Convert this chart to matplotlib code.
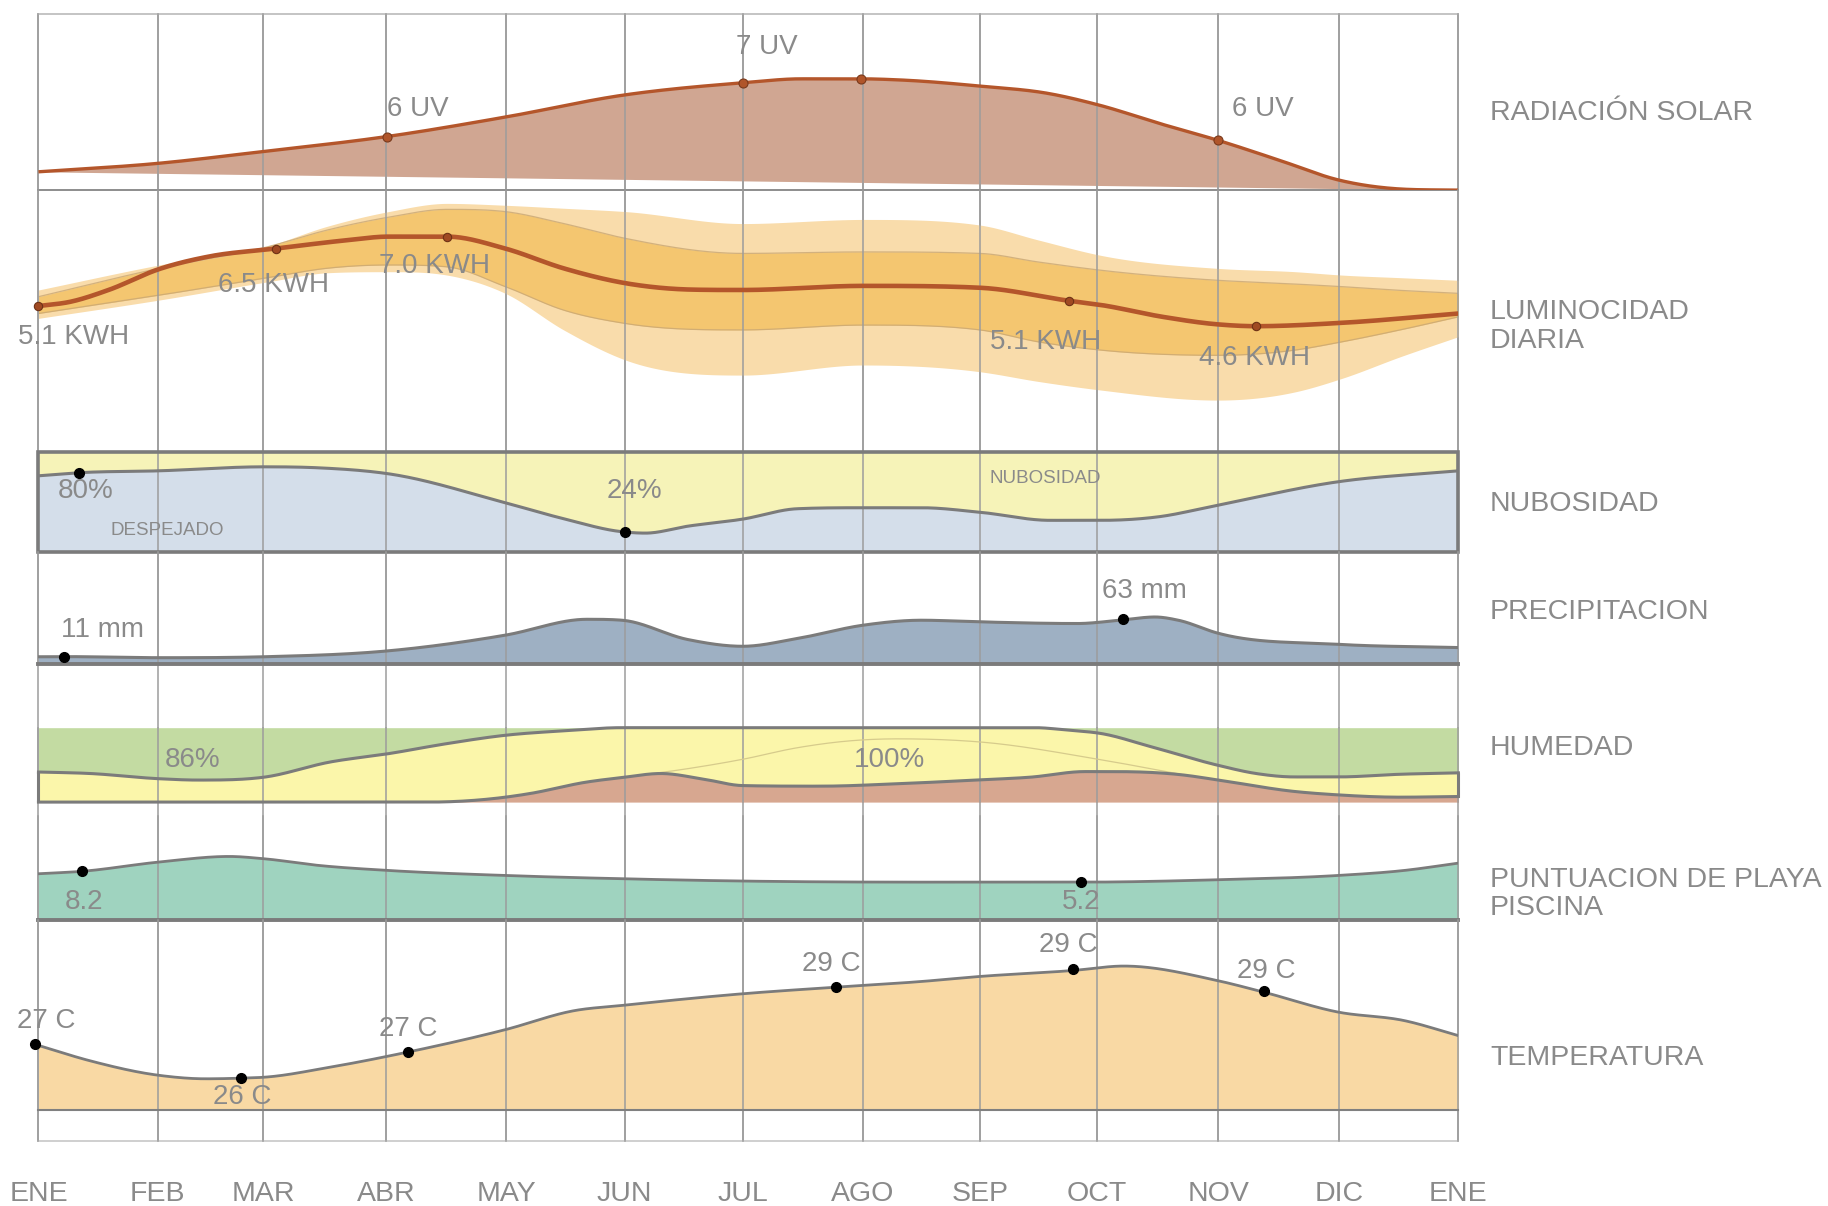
import numpy as np
import matplotlib
matplotlib.use("Agg")
import matplotlib.pyplot as plt
from matplotlib.patches import Rectangle
import matplotlib.transforms as mtransforms

plt.rcParams['font.family'] = ['Liberation Sans', 'DejaVu Sans']

# ---------------- data ----------------
month_labels = ["ENE", "FEB", "MAR", "ABR", "MAY", "JUN", "JUL", "AGO", "SEP", "OCT", "NOV", "DIC", "ENE"]
month_pos = [0, 30.6, 57.8, 89.3, 120.2, 150.7, 181, 211.9, 242.1, 272.1, 303.3, 334.4, 365]

row_labels = ["RADIACIÓN SOLAR", "LUMINOCIDAD\nDIARIA", "NUBOSIDAD", "PRECIPITACION",
              "HUMEDAD", "PUNTUACION DE PLAYA\nPISCINA", "TEMPERATURA"]

# solar radiation (UV index)
rad_days = [0, 30.6, 57.5, 89.6, 120.2, 150.4, 181.2, 196, 211.5, 221.5, 242.1, 259.5, 272.7, 288.3, 303.3, 318.8, 334.4, 350.8, 365]
rad_uv = [5.39, 5.54, 5.75, 6.02, 6.37, 6.76, 6.98, 7.05, 7.05, 7.03, 6.92, 6.79, 6.58, 6.25, 5.95, 5.60, 5.24, 5.08, 5.063]
rad_floor = [5.39, 5.063]
rad_mark_days = [89.6, 181.2, 211.5, 303.3]
rad_mark_vals = [6.02, 6.98, 7.05, 5.95]
rad_texts = ["6 UV", "7 UV", "6 UV"]

# daily luminosity (kWh)
lum_days = [0, 8, 18, 31, 44, 61, 79, 90, 105, 120, 135, 151, 168, 181, 212, 242, 265, 273, 289, 303, 313, 335, 365]
lum_kwh = [5.15, 5.26, 5.58, 6.14, 6.48, 6.69, 6.91, 7.01, 7.01, 6.69, 6.16, 5.76, 5.59, 5.58, 5.69, 5.64, 5.29, 5.18, 4.86, 4.66, 4.61, 4.70, 4.95]
band_days = [0, 31, 59, 74, 90, 105, 120, 135, 151, 181, 212, 242, 257, 273, 303, 323, 335, 350, 365]
lum_outer_hi = [5.58, 6.25, 6.76, 7.28, 7.68, 7.90, 7.85, 7.77, 7.68, 7.36, 7.47, 7.32, 6.92, 6.51, 6.16, 6.07, 5.98, 5.91, 5.84]
lum_inner_hi = [5.40, 6.16, 6.74, 7.18, 7.53, 7.74, 7.68, 7.36, 6.96, 6.56, 6.60, 6.56, 6.33, 6.11, 5.84, 5.74, 5.67, 5.57, 5.49]
lum_inner_lo = [4.95, 5.44, 5.91, 6.16, 6.25, 6.20, 5.67, 5.04, 4.68, 4.51, 4.64, 4.51, 4.19, 3.97, 3.83, 3.97, 4.19, 4.51, 4.86]
lum_outer_lo = [4.82, 5.31, 5.80, 6.04, 6.07, 5.98, 5.49, 4.51, 3.70, 3.30, 3.57, 3.39, 3.13, 2.90, 2.63, 2.85, 3.21, 3.79, 4.33]
lum_mark_days = [0, 61, 105, 265, 313]
lum_mark_vals = [5.15, 6.69, 7.01, 5.29, 4.61]
lum_texts = ["5.1 KWH", "6.5 KWH", "7.0 KWH", "5.1 KWH", "4.6 KWH"]

# cloud cover: share of clear sky (%)
nub_days = [0, 10, 31, 58, 72, 90, 120, 135, 150, 156, 167, 181, 195, 212, 227, 242, 260, 273, 288, 303, 334, 365]
nub_clear = [76, 79, 81, 85, 84, 78, 49, 33, 20, 18.6, 25.6, 32.6, 43, 44, 44, 39.5, 31.4, 31.4, 35, 46.5, 70, 81]
nub_mark_days = [10.5, 150.7]
nub_mark_vals = [79, 19.8]
nub_texts = ["80%", "24%"]

# precipitation (mm)
pr_days = [0, 7, 31, 58, 90, 120, 141, 150, 167, 181, 195, 212, 227, 242, 267, 278, 287, 293, 303, 334, 365]
pr_mm = [10.4, 10.6, 9.1, 10.4, 18.7, 40.5, 62.6, 61.3, 34.3, 25.0, 35.8, 54.4, 61.3, 59.0, 56.7, 61.3, 65.8, 61.3, 43.5, 27.8, 23.2]
pr_mark_days = [6.6, 278.7]
pr_mark_vals = [10.6, 62.6]
pr_texts = ["11 mm", "63 mm"]

# humidity bands (% of time)
hum_up_days = [0, 13, 31, 41, 58, 75, 90, 105, 120, 135, 150, 256, 265, 273, 286, 303, 313, 323, 334, 350, 365]
hum_up = [40.4, 38.5, 31.4, 29.6, 33.5, 53.9, 65.1, 78.6, 89.8, 95.8, 100, 100, 96.5, 92.3, 74.4, 49.7, 38.4, 33.8, 33.8, 37.4, 39.3]
hum_lo_days = [0, 100, 120, 126, 141, 150, 160, 171, 181, 201, 221, 242, 255, 269, 276, 294, 303, 323, 334, 350, 365]
hum_lo = [0, 0, 6.6, 11.2, 27, 33, 38.4, 30.8, 22.2, 21.4, 24.7, 29.9, 33.5, 41, 41, 36.6, 29.9, 14.2, 9.7, 6.6, 7.5]
hum_mid_days = [150, 167, 181, 195, 209, 221, 242, 273, 294]
hum_mid = [33, 45, 57.5, 73, 82.5, 85, 80.8, 57, 37]
hum_texts = ["86%", "100%"]

# beach / pool score
beach_days = [0, 11, 31, 49, 58, 72, 90, 120, 150, 181, 227, 268, 303, 334, 351, 365]
beach_val = [7.3, 7.67, 9.13, 10.0, 9.64, 8.6, 7.81, 7.03, 6.52, 6.16, 5.99, 5.99, 6.36, 7.03, 7.81, 8.96]
beach_mark_days = [11.2, 268]
beach_mark_vals = [7.69, 6.05]
beach_texts = ["8.2", "5.2"]

# temperature (C)
temp_days = [0, 13, 31, 43, 52, 58, 75, 95, 120, 138, 150, 181, 205, 227, 242, 266, 279, 303, 315, 334, 351, 365]
temp_c = [27.04, 26.56, 26.09, 25.98, 26.0, 26.03, 26.35, 26.83, 27.54, 28.15, 28.31, 28.68, 28.89, 29.07, 29.23, 29.42, 29.56, 29.10, 28.73, 28.10, 27.83, 27.35]
temp_base = 25.0
temp_mark_days = [-1, 52, 95, 205, 266, 315]
temp_mark_vals = [27.1, 26.0, 26.83, 28.89, 29.46, 28.76]
temp_texts = ["27 C", "26 C", "27 C", "29 C", "29 C", "29 C"]

# ---------------- style ----------------
TXT = '#8a8a8a'
GRID = '#9c9c9c'
DARK = '#7b7b7b'
RAD_FILL, RAD_LINE = '#d0a692', '#b4562b'
LUM_OUT, LUM_IN, LUM_LINE = '#f9dcab', '#f4c670', '#b4562b'
NUB_BLUE, NUB_YEL = '#d4deea', '#f6f3b8'
PR_FILL = '#9eb0c3'
HUM_GREEN, HUM_YEL, HUM_BROWN = '#c3dba2', '#fbf6aa', '#d7a790'
BEACH = '#9fd3bf'
TEMP = '#f9d9a4'


def smooth(x, y, xs):
    """Monotone cubic curve through the points (parabolic slopes, limited)."""
    x = np.asarray(x, float)
    y = np.asarray(y, float)
    h = np.diff(x)
    d = np.diff(y) / h
    m = np.zeros_like(y)
    m[0], m[-1] = d[0], d[-1]
    for k in range(1, len(x) - 1):
        if d[k - 1] * d[k] > 0:
            mk = (h[k] * d[k - 1] + h[k - 1] * d[k]) / (h[k - 1] + h[k])
            lim = 3 * min(abs(d[k - 1]), abs(d[k]))
            m[k] = np.sign(mk) * min(abs(mk), lim)
    i = np.clip(np.searchsorted(x, xs, side='right') - 1, 0, len(x) - 2)
    t = (xs - x[i]) / h[i]
    t2, t3 = t * t, t * t * t
    return ((2 * t3 - 3 * t2 + 1) * y[i] + (t3 - 2 * t2 + t) * h[i] * m[i]
            + (-2 * t3 + 3 * t2) * y[i + 1] + (t3 - t2) * h[i] * m[i + 1])


W, H = 1568.0, 1034.0
X0, X1 = 33.0, 1251.0


def rect(y_top, y_bot):
    return [X0 / W, 1 - y_bot / H, (X1 - X0) / W, (y_bot - y_top) / H]


fig = plt.figure(figsize=(18.28, 12.06), dpi=100)

# background grid
bg = fig.add_axes(rect(12, 978))
bg.set_xlim(0, 365)
bg.set_ylim(0, 1)
bg.axis('off')
for d in month_pos:
    bg.axvline(d, color=GRID, lw=1.1, clip_on=False, zorder=1)
bg.axhline(1, color='#c4c4c4', lw=1.4, clip_on=False)
bg.axhline(0, color='#cfcfcf', lw=1.4, clip_on=False)
tr = mtransforms.blended_transform_factory(bg.transData, bg.transAxes)
for d, lab in zip(month_pos, month_labels):
    bg.text(d, -0.0475, lab, transform=tr, ha='center', va='center', fontsize=20.5, color=TXT)


def panel(y_top, y_bot, ylim):
    ax = fig.add_axes(rect(y_top, y_bot))
    ax.set_xlim(0, 365)
    ax.set_ylim(*ylim)
    ax.axis('off')
    for d in month_pos:
        ax.axvline(d, color=GRID, lw=1.1, clip_on=False, zorder=1.5)
    return ax


def label(ax, x, y, s, size=20):
    ax.text(x, y, s, ha='center', va='center', fontsize=size, color=TXT, zorder=6)


xs = np.linspace(0, 365, 1200)
dot_kw = dict(ls='none', marker='o', ms=7, mfc='black', mec='black', zorder=7, clip_on=False)

# --- radiation ---
ax = panel(12, 163, (5.063, 8.208))
r = smooth(rad_days, rad_uv, xs)
fl = np.interp(xs, [0, 365], rad_floor)
ax.fill_between(xs, fl, r, color=RAD_FILL, lw=0, zorder=1)
ax.plot(xs, r, color=RAD_LINE, lw=2.4, zorder=3, solid_capstyle='butt')
ax.axhline(5.063, color='#858585', lw=1.3, clip_on=False, zorder=2)
ax.plot(rad_mark_days, rad_mark_vals, ls='none', marker='o', ms=6.5, mfc='#b0552a', mec='#7a3a1c', mew=0.8, zorder=5)
for (x, y), s in zip([(97.4, 6.52), (187.3, 7.625), (314.6, 6.52)], rad_texts):
    label(ax, x, y, s)

# --- luminosity ---
ax = panel(163, 387, (1.256, 8.256))
oh = smooth(band_days, lum_outer_hi, xs)
ol = smooth(band_days, lum_outer_lo, xs)
ih = smooth(band_days, lum_inner_hi, xs)
il = smooth(band_days, lum_inner_lo, xs)
c = smooth(lum_days, lum_kwh, xs)
ax.fill_between(xs, ol, oh, color=LUM_OUT, lw=0, zorder=1)
ax.fill_between(xs, il, ih, color=LUM_IN, lw=0, zorder=1.1)
for e in (ih, il):
    ax.plot(xs, e, color='#c9a774', lw=0.9, alpha=0.8, zorder=1.2)
ax.plot(xs, c, color=LUM_LINE, lw=3.3, zorder=3)
ax.plot(lum_mark_days, lum_mark_vals, ls='none', marker='o', ms=6, mfc='#a04a22', mec='#6e3216', mew=0.8, zorder=5, clip_on=False)
for (x, y), s in zip([(9.0, 4.32), (60.5, 5.725), (101.9, 6.225), (258.9, 4.19), (312.6, 3.756)], lum_texts):
    label(ax, x, y, s)

# --- cloud cover ---
ax = panel(387.4, 473, (0, 100))
n = smooth(nub_days, nub_clear, xs)
ax.fill_between(xs, 0, n, color=NUB_BLUE, lw=0, zorder=1)
ax.fill_between(xs, n, 100, color=NUB_YEL, lw=0, zorder=1)
ax.plot(xs, n, color=DARK, lw=2.2, zorder=3)
ax.add_patch(Rectangle((0, 0), 1, 1, transform=ax.transAxes, fill=False, ec=DARK, lw=2.6, clip_on=False, zorder=4))
ax.plot(nub_mark_days, nub_mark_vals, **dot_kw)
for (x, y), s in zip([(12, 60.5), (153.1, 60.5)], nub_texts):
    label(ax, x, y, s)
label(ax, 33, 20.9, "DESPEJADO", size=13.5)
label(ax, 258.9, 73.3, "NUBOSIDAD", size=13.5)

# --- precipitation ---
ax = panel(473, 569.5, (0, 156.8))
p = smooth(pr_days, pr_mm, xs)
ax.fill_between(xs, 0, p, color=PR_FILL, lw=0, zorder=1)
ax.plot(xs, p, color=DARK, lw=2.2, zorder=3)
ax.axhline(0, color=DARK, lw=2.8, clip_on=False, zorder=4)
ax.plot(pr_mark_days, pr_mark_vals, **dot_kw)
for (x, y), s in zip([(16.5, 48), (284.4, 101.6)], pr_texts):
    label(ax, x, y, s)

# --- humidity ---
ax = panel(623.9, 687.7, (0, 100))
hu = np.clip(smooth(hum_up_days, hum_up, xs), 0, 100)
hl = np.clip(smooth(hum_lo_days, hum_lo, xs), 0, 100)
ax.fill_between(xs, 0, hl, color=HUM_BROWN, lw=0, zorder=1)
ax.fill_between(xs, hl, hu, color=HUM_YEL, lw=0, zorder=1)
ax.fill_between(xs, hu, 100, color=HUM_GREEN, lw=0, zorder=1)
xm = xs[(xs >= hum_mid_days[0]) & (xs <= hum_mid_days[-1])]
ax.plot(xm, smooth(hum_mid_days, hum_mid, xm), color='#d6cb8c', lw=0.9, zorder=2)
ax.plot(xs, hu, color=DARK, lw=2.2, zorder=3, clip_on=False)
ax.plot(xs, hl, color=DARK, lw=2.2, zorder=3, clip_on=False)
ax.vlines([0, 365], [hum_lo[0], hum_lo[-1]], [hum_up[0], hum_up[-1]], color=DARK, lw=2.2, zorder=3, clip_on=False)
for (x, y), s in zip([(39.6, 56), (218.8, 56)], hum_texts):
    label(ax, x, y, s)

# --- beach score ---
ax = panel(700, 789.2, (0, 16.25))
b = smooth(beach_days, beach_val, xs)
ax.fill_between(xs, 0, b, color=BEACH, lw=0, zorder=1)
ax.plot(xs, b, color=DARK, lw=2.0, zorder=3)
ax.axhline(0, color=DARK, lw=2.8, clip_on=False, zorder=4)
ax.plot(beach_mark_days, beach_mark_vals, **dot_kw)
for (x, y), s in zip([(11.7, 2.95), (268, 2.95)], beach_texts):
    label(ax, x, y, s)

# --- temperature ---
ax = panel(789.2, 978, (24.015, 31.007))
t = smooth(temp_days, temp_c, xs)
ax.fill_between(xs, temp_base, t, color=TEMP, lw=0, zorder=1)
ax.plot(xs, t, color=DARK, lw=2.0, zorder=3)
ax.axhline(temp_base, color='#808080', lw=1.5, clip_on=False, zorder=4)
ax.plot(temp_mark_days, temp_mark_vals, **dot_kw)
for (x, y), s in zip([(2.1, 27.83), (52.4, 25.39), (95, 27.57), (203.8, 29.64), (264.6, 30.24), (315.5, 29.39)], temp_texts):
    label(ax, x, y, s)

# --- row titles ---
for s, yc in zip(row_labels, [97, 280, 432, 525, 641, 766.5, 907]):
    fig.text(1278 / W, 1 - yc / H, s, ha='left', va='center', fontsize=20.5, color=TXT, linespacing=1.12)

fig.savefig("out.png", dpi=100, facecolor='white')
